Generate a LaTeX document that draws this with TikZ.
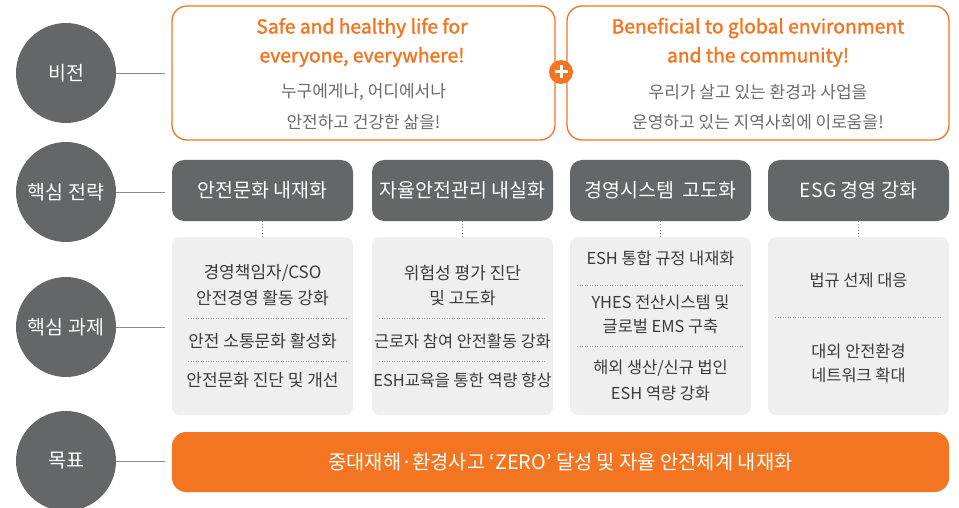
\documentclass[tikz,border=0pt]{standalone}
\usepackage{fontspec}
\setmainfont{Noto Sans CJK KR}
\newfontfamily\kr{Noto Sans CJK KR}
\newfontfamily\krfb[FakeBold=1.6]{Noto Sans CJK KR}
\definecolor{orng}{HTML}{F37521}
\definecolor{dgray}{HTML}{656668}
\definecolor{lgray}{HTML}{EFEFEF}
\definecolor{tgray}{HTML}{6A6B6D}
\definecolor{ttext}{HTML}{3C3C3C}
\definecolor{lline}{HTML}{8A8A8A}
\begin{document}
\begin{tikzpicture}[x=1pt,y=-1pt,
  lcirc/.style={circle,fill=dgray,minimum size=100pt,inner sep=0pt,text=white,font=\kr\fontsize{19.5}{22}\selectfont},
  vbox/.style={draw=orng,line width=1.3pt,rounded corners=15pt},
  sbox/.style={fill=dgray,rounded corners=12pt},
  tbox/.style={fill=lgray,rounded corners=8pt},
  vtitle/.style={text=orng,font=\krfb\fontsize{19.3}{22}\selectfont,inner sep=0pt},
  vsub/.style={text=tgray,font=\kr\fontsize{17}{19}\selectfont,inner sep=0pt},
  stxt/.style={text=white,font=\kr\fontsize{19.5}{22}\selectfont,inner sep=0pt},
  ttxt/.style={text=ttext,font=\kr\fontsize{17}{19}\selectfont,inner sep=0pt},
  ttxn/.style={text=ttext,font=\kr\fontsize{16.4}{19}\selectfont,inner sep=0pt},
  link/.style={draw=lline,line width=0.9pt},
  dotv/.style={draw=lline,line width=0.9pt,dash pattern=on 1pt off 2pt},
  doth/.style={draw=lline!80,line width=0.7pt,dash pattern=on 1pt off 1.5pt}]
\useasboundingbox (0,0) rectangle (959,508);
% left circles
\node[lcirc] (c1) at (66,73) {비전};
\node[lcirc] (c2) at (66,192) {핵심 전략};
\node[lcirc] (c3) at (66,327) {핵심 과제};
\node[lcirc] (c4) at (66,461) {목표};
\coordinate (e1) at (165,73);
\coordinate (e2) at (165,192);
\coordinate (e3) at (165,327);
\coordinate (e4) at (165,461);
\draw[link] (c1.east) -- (e1);
\draw[link] (c2.east) -- (e2);
\draw[link] (c3.east) -- (e3);
\draw[link] (c4.east) -- (e4);
% vision boxes
\draw[vbox] (172,6) rectangle (555,140);
\draw[vbox] (567,6) rectangle (949,140);
\node[vtitle] (v1a) at (362,28) {Safe and healthy life for};
\node[vtitle] (v1b) at (362,57) {everyone, everywhere!};
\node[vsub] (v1c) at (363.5,92) {누구에게나, 어디에서나};
\node[vsub] (v1d) at (363.5,122) {안전하고 건강한 삶을!};
\node[vtitle] (v2a) at (758,28) {Beneficial to global environment};
\node[vtitle] (v2b) at (758,57) {and the community!};
\node[vsub] (v2c) at (758,92) {우리가 살고 있는 환경과 사업을};
\node[vsub] (v2d) at (758,122) {운영하고 있는 지역사회에 이로움을!};
\node[circle,fill=orng,minimum size=24pt,inner sep=0pt] (plus) at (561,72) {};
\draw[white,line width=3pt] (plus.center) ++(-6.5,0) -- ++(13,0);
\draw[white,line width=3pt] (plus.center) ++(0,-6.5) -- ++(0,13);
% strategy boxes
\fill[sbox] (172,160) rectangle (353,221);
\fill[sbox] (372,160) rectangle (553,221);
\fill[sbox] (570,160) rectangle (751,221);
\fill[sbox] (768,160) rectangle (949,221);
\node[stxt] (s1) at (262.5,190) {안전문화 내재화};
\node[stxt] (s2) at (462.5,190) {자율안전관리 내실화};
\node[stxt] (s3) at (660.5,190) {경영시스템\ \ 고도화};
\node[stxt] (s4) at (858.5,190) {ESG 경영 강화};
% task boxes
\fill[tbox] (172,237) rectangle (353,415);
\fill[tbox] (372,237) rectangle (553,415);
\fill[tbox] (570,237) rectangle (751,415);
\fill[tbox] (768,237) rectangle (949,415);
\coordinate (t1) at (262.5,237);
\coordinate (t2) at (462.5,237);
\coordinate (t3) at (660.5,237);
\coordinate (t4) at (858.5,237);
\coordinate (b1) at (262.5,221);
\coordinate (b2) at (462.5,221);
\coordinate (b3) at (660.5,221);
\coordinate (b4) at (858.5,221);
\draw[dotv] (b1) -- (t1);
\draw[dotv] (b2) -- (t2);
\draw[dotv] (b3) -- (t3);
\draw[dotv] (b4) -- (t4);
% column 1
\node[ttxt] (k11) at (262.5,273) {경영책임자/CSO};
\node[ttxt] (k12) at (262.5,298) {안전경영 활동 강화};
\draw[doth] (188,318) -- (347,318);
\node[ttxt] (k13) at (262.5,341) {안전 소통문화 활성화};
\draw[doth] (188,361) -- (347,361);
\node[ttxt] (k14) at (262.5,380) {안전문화 진단 및 개선};
% column 2
\node[ttxt] (k21) at (462.5,273) {위험성 평가 진단};
\node[ttxt] (k22) at (462.5,298) {및 고도화};
\draw[doth] (379,318) -- (546,318);
\node[ttxn] (k23) at (462.5,341) {근로자 참여 안전활동 강화};
\draw[doth] (379,361) -- (546,361);
\node[ttxn] (k24) at (462.5,380) {ESH교육을 통한 역량 향상};
% column 3
\node[ttxn] (k31) at (660.5,258) {ESH 통합 규정 내재화};
\draw[doth] (577,285) -- (744,285);
\node[ttxn] (k32) at (660.5,302) {YHES 전산시스템 및};
\node[ttxn] (k33) at (660.5,326) {글로벌 EMS 구축};
\draw[doth] (577,346) -- (744,346);
\node[ttxn] (k34) at (660.5,368) {해외 생산/신규 법인};
\node[ttxn] (k35) at (660.5,393) {ESH 역량 강화};
% column 4
\node[ttxn] (k41) at (858.5,280) {법규 선제 대응};
\draw[doth] (775,317) -- (942,317);
\node[ttxn] (k42) at (858.5,351) {대외 안전환경};
\node[ttxn] (k43) at (858.5,375) {네트워크 확대};
% goal bar
\fill[orng,rounded corners=14pt] (172,432) rectangle (949,492);
\node[stxt,font=\kr\fontsize{19.8}{22}\selectfont] (goal) at (560.5,462) {중대재해·환경사고 ‘ZERO’ 달성 및 자율 안전체계 내재화};
\end{tikzpicture}
\end{document}
